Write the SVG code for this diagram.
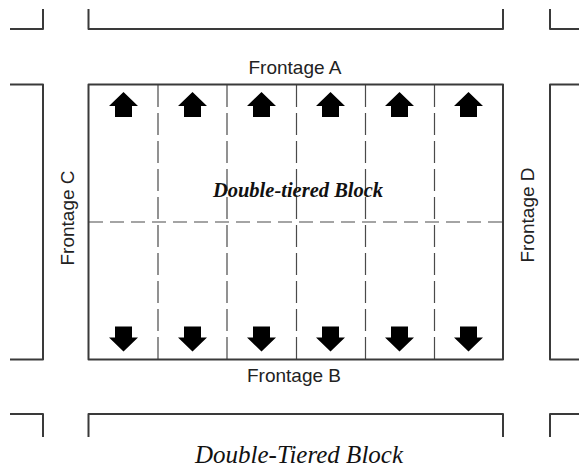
<svg xmlns="http://www.w3.org/2000/svg" width="579" height="470" viewBox="0 0 579 470">
  <style>
    .street { fill: none; stroke: #3a3a3a; stroke-width: 2; stroke-linejoin: round; }
    .lot-v { stroke: #4a4a4a; stroke-width: 1.2; stroke-dasharray: 22 6; }
    .lot-h { stroke: #4a4a4a; stroke-width: 1.2; stroke-dasharray: 14 7; }
    .label { font-family: "Liberation Sans", Arial, sans-serif; font-size: 19px; fill: #222; text-anchor: middle; }
    .block-title { font-family: "Liberation Serif", "Times New Roman", serif; font-size: 20.5px; font-weight: bold; font-style: italic; fill: #111; text-anchor: middle; }
    .caption { font-family: "Liberation Serif", "Times New Roman", serif; font-size: 25px; font-style: italic; fill: #111; text-anchor: middle; }
    .arrow { fill: #000; }
  </style>
  <defs>
    <path id="arrow-up" class="arrow" d="M0,-12.5 L14.5,1.5 L8.5,1.5 L8.5,12.5 L-8.5,12.5 L-8.5,1.5 L-14.5,1.5 Z"/>
    <path id="arrow-down" class="arrow" d="M0,12.5 L14.5,-1.5 L8.5,-1.5 L8.5,-12.5 L-8.5,-12.5 L-8.5,-1.5 L-14.5,-1.5 Z"/>
  </defs>
  <rect width="579" height="470" fill="#fff"/>

  <!-- neighbouring blocks, top row -->
  <g id="block-top-left"><path class="street" d="M10,29 H43 V9"/></g>
  <g id="block-top-middle"><path class="street" d="M88.5,9 V29 H503 V9"/></g>
  <g id="block-top-right"><path class="street" d="M550,9 V29 H579"/></g>

  <!-- neighbouring blocks, middle row -->
  <g id="block-left"><path class="street" d="M10,84.5 H43 V359.5 H10"/></g>
  <g id="block-right"><path class="street" d="M579,84.5 H550 V359.5 H579"/></g>

  <!-- neighbouring blocks, bottom row -->
  <g id="block-bottom-left"><path class="street" d="M10,414 H43 V437"/></g>
  <g id="block-bottom-middle"><path class="street" d="M88.5,437 V414 H503 V437"/></g>
  <g id="block-bottom-right"><path class="street" d="M550,437 V414 H579"/></g>

  <!-- the double-tiered block with its lot lines -->
  <g id="main-block">
    <g id="lot-lines">
      <line class="lot-h" x1="89" y1="222" x2="503" y2="222"/>
      <line class="lot-v" x1="158" y1="85" x2="158" y2="359"/>
      <line class="lot-v" x1="227" y1="85" x2="227" y2="359"/>
      <line class="lot-v" x1="296.5" y1="85" x2="296.5" y2="359"/>
      <line class="lot-v" x1="365.5" y1="85" x2="365.5" y2="359"/>
      <line class="lot-v" x1="434.5" y1="85" x2="434.5" y2="359"/>
    </g>
    <rect class="street" x="88.5" y="84.5" width="414.5" height="275"/>
    <text class="block-title" x="298" y="197">Double-tiered Block</text>
  </g>

  <!-- lot orientation arrows -->
  <g id="arrows-front">
    <use href="#arrow-up" x="123.5" y="104.5"/>
    <use href="#arrow-up" x="192.5" y="104.5"/>
    <use href="#arrow-up" x="261.5" y="104.5"/>
    <use href="#arrow-up" x="330.5" y="104.5"/>
    <use href="#arrow-up" x="399.5" y="104.5"/>
    <use href="#arrow-up" x="468.5" y="104.5"/>
  </g>
  <g id="arrows-back">
    <use href="#arrow-down" x="123.5" y="339"/>
    <use href="#arrow-down" x="192.5" y="339"/>
    <use href="#arrow-down" x="261.5" y="339"/>
    <use href="#arrow-down" x="330.5" y="339"/>
    <use href="#arrow-down" x="399.5" y="339"/>
    <use href="#arrow-down" x="468.5" y="339"/>
  </g>

  <!-- frontage labels -->
  <g id="frontage-a"><text class="label" x="295" y="74">Frontage A</text></g>
  <g id="frontage-b"><text class="label" x="294" y="382">Frontage B</text></g>
  <g id="frontage-c"><text class="label" transform="translate(73.5,218) rotate(-90)">Frontage C</text></g>
  <g id="frontage-d"><text class="label" transform="translate(533.5,215) rotate(-90)">Frontage D</text></g>

  <text class="caption" x="299" y="463">Double-Tiered Block</text>
</svg>
